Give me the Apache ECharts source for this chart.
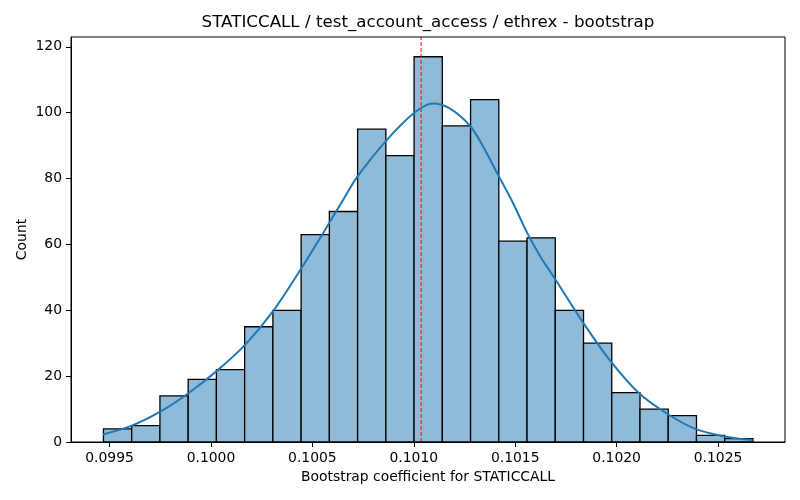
<!DOCTYPE html>
<html>
<head>
<meta charset="utf-8">
<script src="https://cdn.jsdelivr.net/npm/echarts@6/dist/echarts.min.js"></script>
<style>
  html, body { margin: 0; padding: 0; background: #fff; }
  #chart { width: 800px; height: 500px; }
</style>
</head>
<body>
<div id="chart"></div>
<script>
// histogram: 23 equal bins between binMin and binMax
var binMin = 0.09947
var binMax = 0.102672
var counts = [4, 5, 14, 19, 22, 35, 40, 63, 70, 95, 87, 117, 96, 104, 61, 62, 40, 30, 15, 10, 8, 2, 1]

// kde curve (scaled to counts)
var kdeX = [0.099467, 0.099607, 0.099750, 0.099889, 0.100029, 0.100168, 0.100308,
  0.100447, 0.100583, 0.100652, 0.100721, 0.100861, 0.101001, 0.101095, 0.101177, 0.101279,
  0.101341, 0.101415, 0.101489, 0.101559, 0.101628, 0.101699, 0.101833, 0.101973, 0.102112,
  0.102251, 0.102391, 0.102530, 0.102670]
var kdeY = [2.3, 4.9, 9.2, 14.8, 21.6, 29.5, 39.9,
  52.9, 66.5, 73.6, 80.5, 91.3, 99.9, 102.8, 101.3, 95.9,
  89.8, 81.2, 72.6, 63.5, 55.9, 49.3, 36.4, 24.3, 14.7,
  8.5, 3.9, 1.7, 0.6]

// point estimate (red dashed line)
var estimate = 0.101036

var xTicks = [0.0995, 0.1000, 0.1005, 0.1010, 0.1015, 0.1020, 0.1025]
var yTicks = [0, 20, 40, 60, 80, 100, 120]

var titleText = 'STATICCALL / test_account_access / ethrex - bootstrap'
var xName = 'Bootstrap coefficient for STATICCALL'
var yName = 'Count'

var font = 'DejaVu Sans'
var yMax = 123

var binW = (binMax - binMin) / counts.length
var histData = counts.map(function (c, i) {
  return [binMin + i * binW, binMin + (i + 1) * binW, c]
})
var kdeData = kdeX.map(function (x, i) { return [x, kdeY[i]] })

var chart = echarts.init(document.getElementById('chart'), null, { renderer: 'canvas' })

var option = {
  animation: false,
  backgroundColor: '#fff',
  textStyle: { fontFamily: font },
  grid: {
    left: 71, right: 15, top: 37, bottom: 58,
    show: true, borderColor: '#000', borderWidth: 1, backgroundColor: 'transparent'
  },
  graphic: [{
    type: 'text',
    x: 428, y: 23,
    style: {
      text: titleText, fontFamily: font, fontSize: 16.7, fill: '#000',
      textAlign: 'center', textVerticalAlign: 'middle'
    }
  }],
  xAxis: {
    type: 'value',
    min: 0.09931,
    max: 0.10283,
    name: xName,
    nameLocation: 'middle',
    nameGap: 28,
    nameTextStyle: { fontFamily: font, fontSize: 13.9, color: '#000' },
    axisLine: { show: true, lineStyle: { color: '#000', width: 1 } },
    axisTick: { show: true, length: 5, lineStyle: { color: '#000' }, customValues: xTicks },
    axisLabel: {
      fontFamily: font, fontSize: 13.9, color: '#000', margin: 9,
      customValues: xTicks,
      formatter: function (v) { return v.toFixed(4) }
    },
    splitLine: { show: false }
  },
  yAxis: {
    type: 'value',
    min: 0,
    max: yMax,
    name: yName,
    nameLocation: 'middle',
    nameGap: 42,
    nameRotate: 90,
    nameMoveOverlap: false,
    nameTextStyle: { fontFamily: font, fontSize: 13.9, color: '#000' },
    axisLine: { show: true, lineStyle: { color: '#000', width: 1 } },
    axisTick: { show: true, length: 5, lineStyle: { color: '#000' }, customValues: yTicks },
    axisLabel: {
      fontFamily: font, fontSize: 13.9, color: '#000', margin: 9,
      customValues: yTicks
    },
    splitLine: { show: false }
  },
  series: [
    {
      type: 'custom',
      name: 'hist',
      data: histData,
      encode: { x: [0, 1], y: 2 },
      z: 2,
      renderItem: function (params, api) {
        var p0 = api.coord([api.value(0), api.value(2)])
        var p1 = api.coord([api.value(1), 0])
        return {
          type: 'rect',
          shape: { x: p0[0], y: p0[1], width: p1[0] - p0[0], height: p1[1] - p0[1] },
          style: { fill: '#8fbbd9', stroke: '#000', lineWidth: 1.3 }
        }
      }
    },
    {
      type: 'line',
      name: 'estimate',
      data: [[estimate, 0], [estimate, yMax]],
      symbol: 'none',
      z: 3,
      lineStyle: { color: '#ff0000', type: [4, 2], width: 1 }
    },
    {
      type: 'line',
      name: 'kde',
      data: kdeData,
      smooth: 0.3,
      symbol: 'none',
      z: 4,
      lineStyle: { color: '#1f77b4', width: 2 }
    }
  ]
}

chart.setOption(option)
</script>
</body>
</html>
